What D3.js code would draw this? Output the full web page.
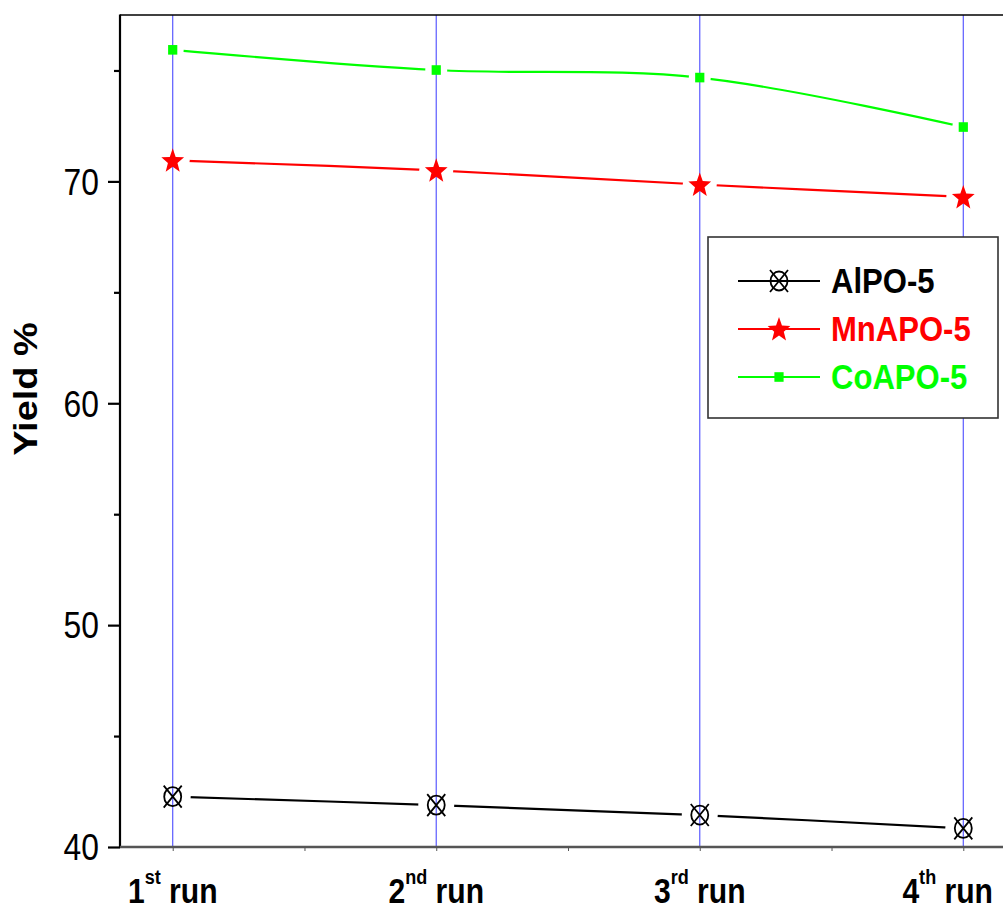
<!DOCTYPE html>
<html>
<head>
<meta charset="utf-8">
<script src="https://cdn.jsdelivr.net/npm/d3@7"></script>
<style>
  body { margin: 0; background: #fff; }
  svg { display: block; }
  text { font-family: Arial, "Liberation Sans", sans-serif; }
</style>
</head>
<body>
<svg id="chart" width="1003" height="914"></svg>
<script>
// Catalyst recycling runs and yields (%)
const runs = [1, 2, 3, 4];
const runLabels = [["1", "st"], ["2", "nd"], ["3", "rd"], ["4", "th"]];
const alpo5 = [42.27, 41.89, 41.44, 40.84];
const mnapo5 = [70.95, 70.5, 69.86, 69.3];
const coapo5 = [75.93, 75.02, 74.68, 72.45];
const yTicks = [40, 50, 60, 70];
const yMinorTicks = [45, 55, 65, 75];
const xMinorTicks = [1.5, 2.5, 3.5];

const series = [
  { name: "AlPO-5", values: alpo5, color: "#000000", marker: "circlex", gap: 18 },
  { name: "MnAPO-5", values: mnapo5, color: "#ff0000", marker: "star", gap: 17 },
  { name: "CoAPO-5", values: coapo5, color: "#00ff00", marker: "square", gap: 11 }
];

const W = 1003, H = 914;
const svg = d3.select("#chart");
const plot = { left: 120, top: 15, bottom: 847, right: 1016 };

const x = d3.scaleLinear().domain([0.8, 4.2]).range([plot.left, plot.right]);
const y = d3.scaleLinear().domain([40, 77.5]).range([plot.bottom, plot.top]);

// Glyphs in this figure are drawn taller than they are wide
const squeeze = 0.86;

// Vertical guide lines at each run
svg.append("g").selectAll("line").data(runs).join("line")
  .attr("x1", d => x(d)).attr("x2", d => x(d))
  .attr("y1", plot.top).attr("y2", plot.bottom)
  .attr("stroke", "#5a5aff").attr("stroke-width", 1.2);

// Top frame line
svg.append("line")
  .attr("x1", plot.left).attr("x2", W)
  .attr("y1", plot.top).attr("y2", plot.top)
  .attr("stroke", "#000").attr("stroke-width", 1.5);

// Y axis
const yAxis = svg.append("g").attr("transform", `translate(${plot.left},0)`)
  .call(d3.axisLeft(y).tickValues(yTicks).tickSize(12).tickFormat(""));
yAxis.select(".domain").remove();
yAxis.selectAll(".tick line").attr("stroke", "#000").attr("stroke-width", 2.2);
const yMinor = svg.append("g").attr("transform", `translate(${plot.left},0)`)
  .call(d3.axisLeft(y).tickValues(yMinorTicks).tickSize(6).tickFormat(""));
yMinor.select(".domain").remove();
yMinor.selectAll(".tick line").attr("stroke", "#000").attr("stroke-width", 2.2);
svg.append("line")
  .attr("x1", plot.left).attr("x2", plot.left)
  .attr("y1", plot.top - 0.5).attr("y2", plot.bottom + 1)
  .attr("stroke", "#000").attr("stroke-width", 2.2);

// Y tick labels
svg.append("g").selectAll("g").data(yTicks).join("g")
  .attr("transform", d => `translate(99,${y(d)}) scale(${squeeze},1)`)
  .append("text")
  .attr("text-anchor", "end")
  .attr("dy", "0.36em")
  .attr("font-size", 37)
  .attr("fill", "#000")
  .text(d => d);

// Y axis title
svg.append("g")
  .attr("transform", `translate(37,389) rotate(-90) scale(1,${squeeze})`)
  .append("text")
  .attr("text-anchor", "middle")
  .attr("font-size", 38)
  .attr("font-weight", "bold")
  .attr("fill", "#000")
  .text("Yield %");

// X axis
svg.append("line")
  .attr("x1", plot.left).attr("x2", W)
  .attr("y1", plot.bottom).attr("y2", plot.bottom)
  .attr("stroke", "#555").attr("stroke-width", 2.6);
const xAxis = svg.append("g").attr("transform", `translate(0,${plot.bottom})`)
  .call(d3.axisBottom(x).tickValues(runs.concat(xMinorTicks)).tickSize(4).tickFormat(""));
xAxis.select(".domain").remove();
xAxis.selectAll(".tick line").attr("stroke", "#555").attr("stroke-width", 1);

// X tick labels with ordinal superscripts, kept inside the canvas
const labelBaseline = 903;
const xlGroups = svg.append("g").selectAll("g").data(runs).join("g");
const xl = xlGroups.append("text")
  .attr("text-anchor", "middle")
  .attr("font-size", 35)
  .attr("font-weight", "bold")
  .attr("fill", "#000");
xl.append("tspan").text((d, i) => runLabels[i][0]);
xl.append("tspan").attr("font-size", 21).attr("dy", -19).text((d, i) => runLabels[i][1]);
xl.append("tspan").attr("dy", 19).text(" run");
xlGroups.each(function (d) {
  const w = this.querySelector("text").getComputedTextLength() * squeeze;
  let cx = x(d);
  cx = Math.min(cx, W - 10 - w / 2);
  d3.select(this).attr("transform", `translate(${cx},${labelBaseline}) scale(${squeeze},1)`);
});

// Marker shapes
function starPath(R) {
  const r = R * 0.42;
  const pts = [];
  for (let k = 0; k < 10; k++) {
    const a = -Math.PI / 2 + k * Math.PI / 5;
    const rad = k % 2 === 0 ? R : r;
    pts.push([rad * Math.cos(a), rad * Math.sin(a)]);
  }
  return "M" + pts.map(p => p.join(",")).join("L") + "Z";
}
function drawMarker(g, type, color) {
  if (type === "square") {
    g.append("rect").attr("x", -4.6).attr("y", -4.8).attr("width", 9.2).attr("height", 9.6)
      .attr("fill", color);
  } else if (type === "star") {
    g.append("path").attr("d", starPath(13)).attr("transform", "translate(0,1) scale(0.92,1)")
      .attr("fill", color);
  } else {
    g.append("ellipse").attr("rx", 8.5).attr("ry", 9.5)
      .attr("fill", "none").attr("stroke", color).attr("stroke-width", 1.8);
    g.append("path").attr("d", "M-9,-11L9,11M9,-11L-9,11")
      .attr("fill", "none").attr("stroke", color).attr("stroke-width", 1.8);
  }
}

// Lines with gaps around the markers
const defs = svg.append("defs");
const line = d3.line().x((d, i) => x(runs[i])).y(d => y(d)).curve(d3.curveCatmullRom.alpha(0.5));

series.forEach((s, si) => {
  const mask = defs.append("mask").attr("id", "gap" + si).attr("maskUnits", "userSpaceOnUse")
    .attr("x", 0).attr("y", 0).attr("width", W).attr("height", H);
  mask.append("rect").attr("width", W).attr("height", H).attr("fill", "#fff");
  mask.selectAll("circle").data(s.values).join("circle")
    .attr("cx", (d, i) => x(runs[i])).attr("cy", d => y(d)).attr("r", s.gap).attr("fill", "#000");

  svg.append("path")
    .datum(s.values)
    .attr("d", line)
    .attr("fill", "none")
    .attr("stroke", s.color)
    .attr("stroke-width", 2.2)
    .attr("mask", `url(#gap${si})`);

  svg.append("g").selectAll("g").data(s.values).join("g")
    .attr("transform", (d, i) => `translate(${x(runs[i])},${y(d)})`)
    .each(function () { drawMarker(d3.select(this), s.marker, s.color); });
});

// Legend
const legend = svg.append("g");
legend.append("rect")
  .attr("x", 708).attr("y", 237).attr("width", 290).attr("height", 181)
  .attr("fill", "#fff").attr("stroke", "#333").attr("stroke-width", 1.6);
const rows = legend.selectAll("g.row").data(series).join("g")
  .attr("class", "row")
  .attr("transform", (d, i) => `translate(0,${281 + i * 48})`);
rows.append("line")
  .attr("x1", 738).attr("x2", 820).attr("y1", 0).attr("y2", 0)
  .attr("stroke", d => d.color).attr("stroke-width", 2);
rows.append("g").attr("transform", "translate(779,0)")
  .each(function (d) { drawMarker(d3.select(this), d.marker, d.color); });
rows.append("g").attr("transform", `translate(831,12) scale(0.9,1)`)
  .append("text")
  .attr("font-size", 34.5)
  .attr("font-weight", "bold")
  .attr("fill", d => d.color)
  .text(d => d.name);
</script>
</body>
</html>
